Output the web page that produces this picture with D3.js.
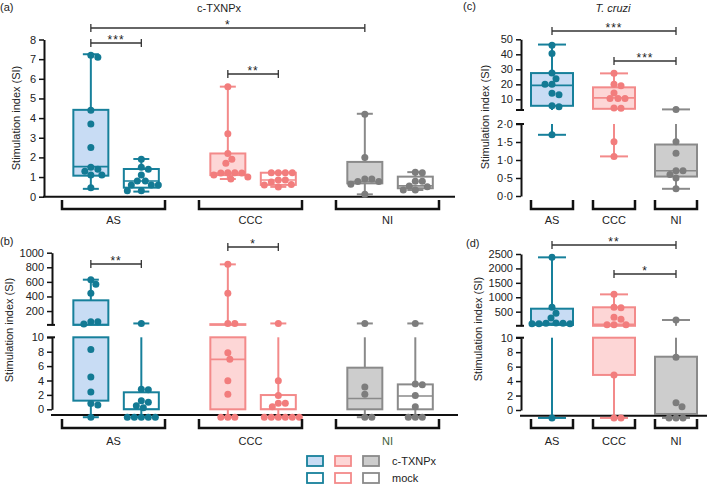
<!DOCTYPE html>
<html><head><meta charset="utf-8">
<script src="https://cdn.jsdelivr.net/npm/d3@7"></script>
<style>body{margin:0;background:#fff}svg text{font-family:"Liberation Sans",Arial,Helvetica,sans-serif}</style>
</head><body><script>
// ---------------- DATA ----------------
const categories = ["AS", "CCC", "NI"];
const conditions = ["c-TXNPx", "mock"];

// (a) c-TXNPx – stimulation index per donor
const aAS_TX    = [7.2, 7.1, 4.4, 3.7, 2.5, 1.5, 1.4, 1.3, 1.1, 1.1, 0.45];
const aAS_MOCK  = [1.9, 1.5, 1.4, 1.1, 0.8, 0.8, 0.6, 0.6, 0.6, 0.3, 0.3];
const aCCC_TX   = [5.6, 3.2, 2.2, 1.9, 1.7, 1.22, 1.22, 1.2, 1.2, 1.1, 1.0, 0.9];
const aCCC_MOCK = [1.22, 1.22, 1.22, 1.22, 0.85, 0.85, 0.75, 0.62, 0.6, 0.5];
const aNI_TX    = [4.2, 2.0, 0.9, 0.9, 0.77, 0.77, 0.63, 0.12];
const aNI_MOCK  = [1.25, 1.22, 0.78, 0.78, 0.55, 0.51, 0.34, 0.34];
// box statistics [min, q1, median, q3, max]
const aAS_TX_box    = [0.4, 1.07, 1.53, 4.42, 7.25];
const aAS_MOCK_box  = [0.26, 0.46, 0.8, 1.41, 1.92];
const aCCC_TX_box   = [0.9, 1.1, 1.2, 2.2, 5.6];
const aCCC_MOCK_box = [0.5, 0.6, 0.85, 1.22, 1.22];
const aNI_TX_box    = [0.12, 0.68, 0.77, 1.77, 4.22];
const aNI_MOCK_box  = [0.34, 0.43, 0.55, 1.02, 1.25];

// (b) cytokine SI (broken axis)
const bAS_TX    = [630, 566, 443, 53, 53, 22, 8.3, 4.5, 2.4, 0.8, 0.6, -1.1];
const bAS_MOCK  = [30, 2.8, 2.7, 1.2, 0.97, 0.5, 0.2, -1.1, -1.1, -1.1, -1.1, -1.1];
const bCCC_TX   = [840, 443, 30, 30, 7.86, 6.94, 3.97, 2.08, -1.1, -1.1, -1.1];
const bCCC_MOCK = [30, 3.97, 1.9, 0.83, 0.83, 0.36, -1.1, -1.1, -1.1, -1.1, -1.1, -1.1];
const bNI_TX    = [30, 3.1, 2.1, -1.1, -1.1];
const bNI_MOCK  = [30, 3.5, 3.4, 1.9, 0.36, -1.1, -1.1, -1.1];
const bAS_TX_box    = [-1.1, 1.2, 15, 347, 630];
const bAS_MOCK_box  = [-1.1, 0, 0, 2.36, 30];
const bCCC_TX_box   = [-1.1, 0, 6.94, 20, 840];
const bCCC_MOCK_box = [-1.1, 0, 0, 1.98, 30];
const bNI_TX_box    = [-1.1, 0, 1.5, 5.78, 30];
const bNI_MOCK_box  = [-1.1, 0, 1.85, 3.46, 30];

// (c) T. cruzi
const cAS  = [46, 40.6, 27.5, 23.7, 20, 20, 14, 13, 5.8, 5, 1.7];
const cCCC = [27.3, 20, 19, 14.2, 10.5, 10.5, 10.5, 4.2, 4.0, 1.51, 1.1];
const cNI  = [3.3, 1.51, 1.19, 0.7, 0.7, 0.6, 0.5, 0.2];
const cAS_box  = [1.7, 5.7, 19.3, 27.5, 46.5];
const cCCC_box = [1.1, 3.7, 11, 18, 27.3];
const cNI_box  = [0.2, 0.54, 0.7, 1.43, 3.3];

// (d) T. cruzi cytokine SI
const dAS  = [2384, 652, 443, 281, 110, 95, 85, 80, 80, 95, -1.1];
const dCCC = [1100, 652, 640, 306, 235, 45, 45, 45, 4.85, -1.1, -1.1];
const dNI  = [211, 7.3, 1.01, 0.46, -1.1, -1.1, -1.1];
const dAS_box  = [-1.1, 40, 100, 603, 2384];
const dCCC_box = [-1.1, 4.85, 60, 652, 1100];
const dNI_box  = [-1.1, -0.55, -0.55, 7.37, 211];

// tick labels
const aTicks = [0, 1, 2, 3, 4, 5, 6, 7, 8];
const bUpperTicks = [200, 400, 600, 800, 1000];
const bLowerTicks = [0, 2, 4, 6, 8, 10];
const cUpperTicks = [10, 20, 30, 40, 50];
const cLowerTicks = [0, 0.5, 1, 1.5, 2];
const dUpperTicks = [500, 1000, 1500, 2000, 2500];
const dLowerTicks = [0, 2, 4, 6, 8, 10];

// ---------------- STYLE ----------------
const COL = {
  AS:  {stroke: "#17809b", fill: "#c8dcf4", pt: "#137a94"},
  CCC: {stroke: "#f38a8a", fill: "#fdd6d6", pt: "#f27d7d"},
  NI:  {stroke: "#8a8a8a", fill: "#cdcdcd", pt: "#7d7d7d"}
};
const R = 3.5;
const svg = d3.select("body").append("svg").attr("width", 709).attr("height", 484);
const dotFmt = v => d3.format(".1f")(v).replace(".", "\u00b7");

function swarm(vals, cx, yv) {
  const pts = vals.map(v => ({v, y: yv(v)})).sort((a, b) => a.y - b.y);
  const placed = [];
  for (const p of pts) {
    for (let k = 0; k < 400; k++) {
      const off = k === 0 ? 0 : (k % 2 === 1 ? (k + 1) / 2 : -k / 2);
      const x = cx + off;
      if (placed.every(q => Math.hypot(q.x - x, q.y - p.y) >= 2 * R * 0.97)) {
        placed.push({x, y: p.y}); break;
      }
    }
  }
  return placed;
}

function drawPanel(p) {
  const g = svg.append("g");
  const segs = p.segments.map(s => Object.assign({}, s, {scale: d3.scaleLinear().domain(s.domain).range(s.range)}));
  const lower = segs[0], upper = segs[1];
  lower.lo = -Infinity; lower.hi = upper ? lower.domain[1] : Infinity;
  if (upper) { upper.lo = upper.domain[0]; upper.hi = Infinity; }
  const segOf = v => (upper && v > lower.domain[1]) ? upper : lower;
  const yv = v => segOf(v).scale(v);
  const clip = (a, b) => segs.map(s => [s, Math.max(a, s.lo), Math.min(b, s.hi)]).filter(d => d[1] < d[2]);

  const xBand = d3.scaleBand().domain(categories).range(p.xRange).paddingInner(p.pad);
  const bw = xBand.bandwidth();
  const sub = d3.scalePoint().domain(conditions).range([0.28 * bw, 0.77 * bw]);
  const xOf = (cat, cond) => p.paired ? xBand(cat) + sub(cond) : xBand(cat) + bw / 2;
  const boxW = p.paired ? p.boxW : bw;

  // y axes
  segs.forEach(s => {
    const ax = d3.axisLeft(s.scale).tickValues(s.ticks).tickSize(5).tickSizeOuter(0).tickPadding(3)
      .tickFormat(s.fmt || d3.format("d"));
    const ag = g.append("g").attr("transform", `translate(${p.axisX},0)`).call(ax);
    ag.select(".domain").attr("stroke", "#111").attr("stroke-width", 2);
    ag.selectAll(".tick line").attr("stroke", "#111").attr("stroke-width", 1.5);
    ag.selectAll(".tick text").attr("font-size", 11).attr("fill", "#222")
      .attr("font-family", '"Liberation Sans", Arial, sans-serif');
  });
  if (upper) {
    [upper.range[0], lower.range[1]].forEach(y => g.append("line")
      .attr("x1", p.axisX - 5).attr("x2", p.axisX + 3).attr("y1", y).attr("y2", y)
      .attr("stroke", "#111").attr("stroke-width", 2));
  }
  if (p.xAxisAt !== undefined) {
    const y = lower.scale(p.xAxisAt);
    g.append("line").attr("x1", p.axisX - 1).attr("x2", p.xAxisEnd).attr("y1", y).attr("y2", y)
      .attr("stroke", "#111").attr("stroke-width", 2);
  }
  // y title
  g.append("text").attr("transform", `translate(${p.titleX},${p.titleY}) rotate(-90)`)
    .attr("text-anchor", "middle").attr("font-size", 11).attr("fill", "#222").text("Stimulation index (SI)");

  // boxes
  p.groups.forEach(gr => {
    const c = COL[gr.cat];
    const cx = xOf(gr.cat, gr.cond);
    const [mn, q1, md, q3, mx] = gr.box;
    const filled = gr.cond === "c-TXNPx";
    const bg = g.append("g");
    [[q3, mx], [mn, q1]].forEach(([a, b]) => clip(a, b).forEach(([s, lo, hi]) =>
      bg.append("line").attr("x1", cx).attr("x2", cx).attr("y1", s.scale(lo)).attr("y2", s.scale(hi))
        .attr("stroke", c.stroke).attr("stroke-width", 2)));
    clip(q1, q3).forEach(([s, lo, hi]) =>
      bg.append("rect").attr("x", cx - boxW / 2).attr("width", boxW)
        .attr("y", s.scale(hi)).attr("height", Math.max(0.01, s.scale(lo) - s.scale(hi)))
        .attr("fill", filled ? c.fill : "#fff").attr("stroke", c.stroke).attr("stroke-width", 2));
    segs.forEach(s => {
      if (md >= s.lo && md <= s.hi && md >= q1 && md <= q3) bg.append("line")
        .attr("x1", cx - boxW / 2).attr("x2", cx + boxW / 2).attr("y1", s.scale(md)).attr("y2", s.scale(md))
        .attr("stroke", c.stroke).attr("stroke-width", 1.6);
    });
    [mn, mx].forEach(v => bg.append("line").attr("x1", cx - p.capW / 2).attr("x2", cx + p.capW / 2)
      .attr("y1", yv(v)).attr("y2", yv(v)).attr("stroke", c.stroke).attr("stroke-width", 2));
    bg.selectAll("circle").data(swarm(gr.values, cx, yv)).join("circle")
      .attr("cx", d => d.x).attr("cy", d => d.y).attr("r", R).attr("fill", c.pt);
  });

  // significance
  p.sigs.forEach(s => {
    const x1 = xOf(s.from[0], s.from[1]), x2 = xOf(s.to[0], s.to[1]);
    const sg = g.append("g").attr("stroke", "#333").attr("stroke-width", 1.3);
    sg.append("line").attr("x1", x1).attr("x2", x2).attr("y1", s.y).attr("y2", s.y);
    [x1, x2].forEach(x => sg.append("line").attr("x1", x).attr("x2", x).attr("y1", s.y - 4).attr("y2", s.y + 4));
    g.append("text").attr("x", (x1 + x2) / 2).attr("y", s.y + 1).attr("text-anchor", "middle")
      .attr("font-size", 12).attr("letter-spacing", 1).attr("fill", "#222").text(s.label);
  });

  // group brackets
  categories.forEach(cat => {
    const x0 = xBand(cat), x1 = x0 + bw;
    g.append("path").attr("d", `M${x0},${p.bracketY - 9}V${p.bracketY}H${x1}V${p.bracketY - 9}`)
      .attr("fill", "none").attr("stroke", "#111").attr("stroke-width", 2.5);
    g.append("text").attr("x", (x0 + x1) / 2).attr("y", p.labelY).attr("text-anchor", "middle")
      .attr("font-size", 11).attr("fill", (p.nicolor && cat === "NI") ? p.nicolor : "#222").text(cat);
  });
  // panel letter + title
  g.append("text").attr("x", p.letterX).attr("y", p.letterY).attr("font-size", 11).attr("fill", "#222").text(p.letter);
  if (p.title) g.append("text").attr("x", p.title.x).attr("y", p.title.y).attr("text-anchor", "middle")
    .attr("font-size", 11).attr("font-style", p.title.italic ? "italic" : "normal").attr("fill", "#222").text(p.title.text);
}

const grp = (cat, cond, values, box) => ({cat, cond, values, box});

drawPanel({
  letter: "(a)", letterX: 0, letterY: 11, title: {text: "c-TXNPx", x: 219, y: 12},
  axisX: 44, segments: [{domain: [0, 8], range: [196.7, 39.5], ticks: aTicks}],
  xRange: [62, 439], pad: 0.248, paired: true, boxW: 35, capW: 16, xAxisAt: 0, xAxisEnd: 455,
  bracketY: 209, labelY: 224, titleX: 20, titleY: 118,
  groups: [grp("AS", "c-TXNPx", aAS_TX, aAS_TX_box), grp("AS", "mock", aAS_MOCK, aAS_MOCK_box),
           grp("CCC", "c-TXNPx", aCCC_TX, aCCC_TX_box), grp("CCC", "mock", aCCC_MOCK, aCCC_MOCK_box),
           grp("NI", "c-TXNPx", aNI_TX, aNI_TX_box), grp("NI", "mock", aNI_MOCK, aNI_MOCK_box)],
  sigs: [{from: ["AS", "c-TXNPx"], to: ["AS", "mock"], y: 43, label: "***"},
         {from: ["AS", "c-TXNPx"], to: ["NI", "c-TXNPx"], y: 28, label: "*"},
         {from: ["CCC", "c-TXNPx"], to: ["CCC", "mock"], y: 74, label: "**"}]
});

drawPanel({
  letter: "(b)", letterX: 0, letterY: 245,
  axisX: 52, segments: [{domain: [0, 10], range: [409.3, 337.3], ticks: bLowerTicks},
                        {domain: [10, 1000], range: [324.9, 252.7], ticks: bUpperTicks}],
  xRange: [62, 439], pad: 0.248, paired: true, boxW: 35, capW: 16, xAxisAt: -0.8, xAxisEnd: 458,
  bracketY: 428, labelY: 445, titleX: 13, titleY: 330, nicolor: "#3f5f3a",
  groups: [grp("AS", "c-TXNPx", bAS_TX, bAS_TX_box), grp("AS", "mock", bAS_MOCK, bAS_MOCK_box),
           grp("CCC", "c-TXNPx", bCCC_TX, bCCC_TX_box), grp("CCC", "mock", bCCC_MOCK, bCCC_MOCK_box),
           grp("NI", "c-TXNPx", bNI_TX, bNI_TX_box), grp("NI", "mock", bNI_MOCK, bNI_MOCK_box)],
  sigs: [{from: ["AS", "c-TXNPx"], to: ["AS", "mock"], y: 264, label: "**"},
         {from: ["CCC", "c-TXNPx"], to: ["CCC", "mock"], y: 247, label: "*"}]
});

drawPanel({
  letter: "(c)", letterX: 463, letterY: 10, title: {text: "T. cruzi", x: 613, y: 12, italic: true},
  axisX: 521, segments: [{domain: [0, 2], range: [196, 124], ticks: cLowerTicks, fmt: dotFmt},
                         {domain: [2.9, 50], range: [110, 39.3], ticks: cUpperTicks}],
  xRange: [531, 697], pad: 0.3226, paired: false, capW: 28,
  bracketY: 209, labelY: 224, titleX: 489, titleY: 117,
  groups: [grp("AS", "c-TXNPx", cAS, cAS_box), grp("CCC", "c-TXNPx", cCCC, cCCC_box), grp("NI", "c-TXNPx", cNI, cNI_box)],
  sigs: [{from: ["AS"], to: ["NI"], y: 31, label: "***"},
         {from: ["CCC"], to: ["NI"], y: 61, label: "***"}]
});

drawPanel({
  letter: "(d)", letterX: 466, letterY: 247,
  axisX: 521, segments: [{domain: [0, 10], range: [410, 337.7], ticks: dLowerTicks},
                         {domain: [10, 2500], range: [325.8, 254], ticks: dUpperTicks}],
  xRange: [531, 697], pad: 0.3226, paired: false, capW: 28, xAxisAt: -0.8, xAxisEnd: 707,
  bracketY: 428, labelY: 445, titleX: 482, titleY: 329,
  groups: [grp("AS", "c-TXNPx", dAS, dAS_box), grp("CCC", "c-TXNPx", dCCC, dCCC_box), grp("NI", "c-TXNPx", dNI, dNI_box)],
  sigs: [{from: ["AS"], to: ["NI"], y: 245, label: "**"},
         {from: ["CCC"], to: ["NI"], y: 274, label: "*"}]
});

// legend
const legX = d3.scalePoint().domain(categories).range([307, 363]);
const legY = d3.scalePoint().domain(conditions).range([456, 473]);
conditions.forEach(cond => {
  categories.forEach(cat => {
    svg.append("rect").attr("x", legX(cat)).attr("y", legY(cond)).attr("width", 16).attr("height", 10)
      .attr("fill", cond === "c-TXNPx" ? COL[cat].fill : "#fff").attr("stroke", COL[cat].stroke).attr("stroke-width", 1.8);
  });
  svg.append("text").attr("x", 392).attr("y", legY(cond) + 9).attr("font-size", 11).attr("fill", "#222").text(cond);
});
</script></body></html>
